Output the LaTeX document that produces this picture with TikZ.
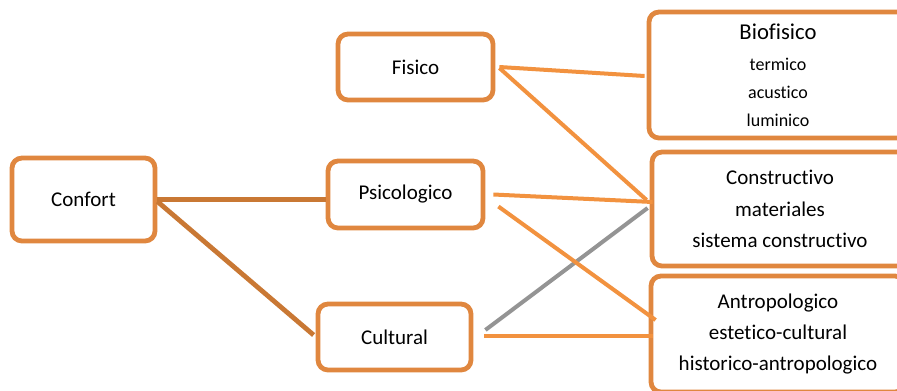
\documentclass[tikz,border=0pt]{standalone}
\usepackage{fontspec}
\setmainfont{Carlito}[Ligatures={NoCommon,NoRare,NoDiscretionary}]
\usetikzlibrary{calc}
\definecolor{boxorange}{HTML}{E0873F}
\definecolor{lightorange}{HTML}{F2923F}
\definecolor{darkorange}{HTML}{C97834}
\tikzset{
  box/.style={draw=boxorange, line width=3.6pt, rounded corners=7.5pt, fill=white,
    align=center, inner sep=0pt, font=\fontsize{15.75}{23.6}\selectfont},
  darkline/.style={draw=darkorange, line width=3.6pt},
  lightline/.style={draw=lightorange, line width=3pt},
  shadowline/.style={draw=black!70, line width=3pt, opacity=0.6},
}
\begin{document}
\begin{tikzpicture}[x=0.75pt, y=-0.75pt]
\path[use as bounding box] (0,0) rectangle (897,390);
\clip (0,0) rectangle (897,390);
% boxes
\node[box, minimum width=143*0.75pt, minimum height=83*0.75pt] (confort) at (83.5,199.5) {Confort};
\node[box, minimum width=155*0.75pt, minimum height=66*0.75pt] (fisico) at (415.5,67) {Fisico};
\node[box, minimum width=155*0.75pt, minimum height=67*0.75pt] (psico) at (405.5,194.5) {Psicologico};
\node[box, minimum width=153*0.75pt, minimum height=66*0.75pt] (cultural) at (394.5,337) {Cultural};
\node[box, minimum width=258*0.75pt, minimum height=126*0.75pt, font=\fontsize{13.5}{21}\selectfont] (bio) at (778,75)
  {{\fontsize{17}{21}\selectfont Biofisico}\\[2pt] termico\\ acustico\\ luminico};
\node[box, minimum width=256*0.75pt, minimum height=114*0.75pt] (constr) at (780,209)
  {Constructivo\\ materiales\\ sistema constructivo};
\node[box, minimum width=254*0.75pt, minimum height=116*0.75pt] (antrop) at (778,334)
  {Antropologico\\ estetico-cultural\\ historico-antropologico};
% connectors
\draw[darkline] (confort.east) -- ($(psico.west)+(0,5)$);
\draw[darkline] ($(confort.east)+(0,2)$) -- ($(cultural.west)+(-2,-2)$);
\draw[shadowline] ($(cultural.east)+(12,-7)$) -- ($(constr.west)+(-2,-1)$);
\draw[lightline] ($(fisico.east)+(4,0)$) -- ($(bio.west)+(-2,1)$);
\draw[lightline] ($(fisico.east)+(4,1)$) -- ($(constr.west)+(-3,-9)$);
\draw[lightline] ($(psico.east)+(8,0)$) -- ($(constr.west)+(3,-7)$);
\draw[lightline] ($(psico.east)+(13,12)$) -- ($(antrop.west)+(7,-14)$);
\draw[lightline] ($(cultural.east)+(11,-1)$) -- ($(antrop.west)+(4,2)$);
\end{tikzpicture}
\end{document}
